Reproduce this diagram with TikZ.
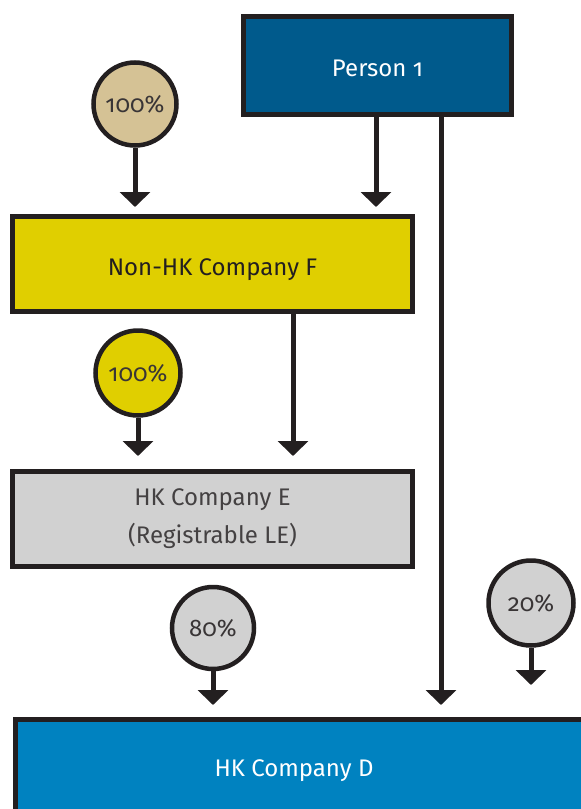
\documentclass[tikz,border=0pt]{standalone}
\usepackage{fontspec}
\setmainfont[Numbers=OldStyle]{Fira Sans}
\usetikzlibrary{arrows.meta}
\definecolor{ink}{HTML}{231F20}
\definecolor{personblue}{HTML}{005A8C}
\definecolor{dblue}{HTML}{0082C0}
\definecolor{fyellow}{HTML}{E0CF00}
\definecolor{egray}{HTML}{D1D1D1}
\definecolor{tan}{HTML}{D5C295}
\tikzset{
  box/.style={draw=ink, line width=5pt, rectangle, inner sep=0pt, font=\fontsize{24}{38}\selectfont, align=center},
  lowtext/.style={text height=22pt, text depth=0pt},
  circ/.style={draw=ink, line width=4.5pt, circle, inner sep=0pt, font=\fontsize{24}{26}\selectfont, text=ink!90},
  arr/.style={draw=ink, line width=5pt, -{Triangle[width=30pt,length=15pt]}},
  plain/.style={draw=ink, line width=5pt}
}
\begin{document}
\begin{tikzpicture}[x=1pt,y=-1pt]
\useasboundingbox (0,0) rectangle (581,809);
\node[box, lowtext, fill=personblue, text=white, minimum width=268pt, minimum height=98pt] (P) at (377.5,65.5) {Person 1};
\node[box, lowtext, fill=fyellow, text=ink, minimum width=400pt, minimum height=95pt] (F) at (212.5,264) {Non-HK Company F};
\node[box, fill=egray, text=ink!85, minimum width=400pt, minimum height=95pt] (E) at (212.5,519) {HK Company E\\(Registrable LE)};
\node[box, fill=dblue, minimum width=600pt, minimum height=101pt, anchor=north west] (D) at (12.5,716.5) {};
\node[text=white, font=\fontsize{24}{36}\selectfont, lowtext] (Dlabel) at (294,765) {HK Company D};
\node[circ, fill=tan, minimum size=83pt] (c1) at (135,104) {100\%};
\node[circ, fill=fyellow, minimum size=85pt] (c2) at (138,373) {100\%};
\node[circ, fill=egray, minimum size=82pt] (c3) at (213,628) {80\%};
\node[circ, fill=egray, minimum size=85pt] (c4) at (531,603) {20\%};
\coordinate (t1) at (135,207);
\coordinate (t2) at (376,207);
\coordinate (t3) at (138,456);
\coordinate (t4) at (293,456);
\coordinate (t5) at (213,705);
\coordinate (t6) at (441,705);
\coordinate (t7) at (531,685);
\draw[arr] (c1.south) -- (t1);
\draw[arr] (P.south -| t2) -- (t2);
\draw[arr] (c2.south) -- (t3);
\draw[arr] (F.south -| t4) -- (t4);
\draw[arr] (c3.south) -- (t5);
\draw[arr] (P.south -| t6) -- (t6);
\draw[arr] (c4.south) -- (t7);
\end{tikzpicture}
\end{document}
